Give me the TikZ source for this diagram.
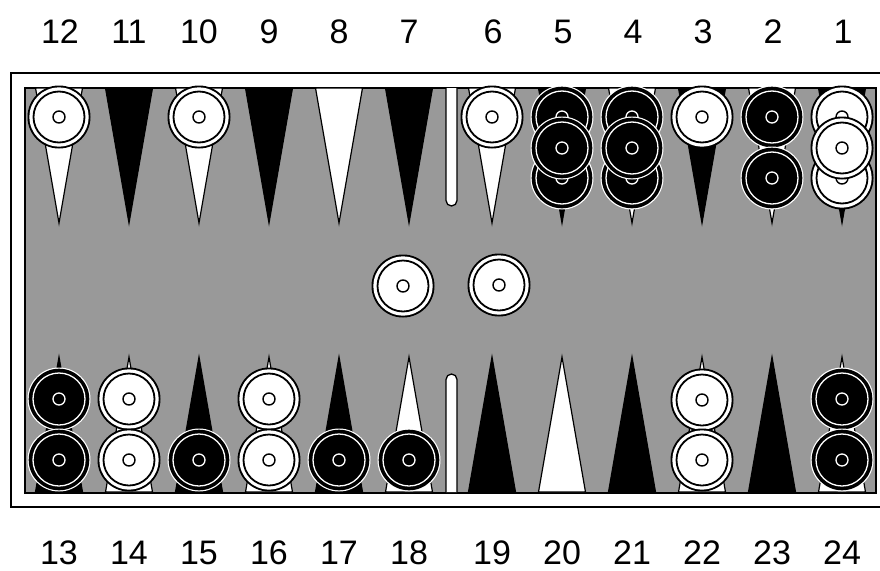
\documentclass[tikz,border=0pt]{standalone}
\usepackage{fontspec}
\setmainfont{Liberation Sans}
\definecolor{boardgrey}{gray}{0.6}
\begin{document}
\begin{tikzpicture}[x=1pt,y=-1pt,
  wpt/.style={fill=white,draw=black,line width=1.2pt,line join=miter},
  bpt/.style={fill=black,draw=black,line width=1.2pt},
  lbl/.style={font=\fontsize{34}{40}\selectfont,anchor=base,inner sep=0pt},
  wchk/.pic={
    \fill[black] (0,0) circle[radius=31.5];
    \fill[white] (0,0) circle[radius=29.6];
    \draw[black,line width=1.8pt] (0,0) circle[radius=25.5];
    \draw[black,line width=1.4pt,fill=white] (0,0) circle[radius=6];
  },
  bchk/.pic={
    \fill[white] (0,0) circle[radius=31.5];
    \fill[black] (0,0) circle[radius=30.3];
    \draw[white,line width=1.3pt] (0,0) circle[radius=26];
    \draw[white,line width=1.3pt,fill=black] (0,0) circle[radius=6];
  }]
\useasboundingbox (0,0) rectangle (880,570);
\clip (0,0) rectangle (880,570);
\fill[white] (0,0) rectangle (880,570);
% frame
\draw[line width=2pt] (11,73) rectangle (892,507);
\draw[fill=boardgrey,line width=1.6pt] (25,88) rectangle (876,493);
% top points
\foreach \x/\s in {59/wpt,129/bpt,199/wpt,269/bpt,339/wpt,409/bpt,492/wpt,562/bpt,632/wpt,702/bpt,772/wpt,842/bpt}
  \draw[\s] (\x-23.5,88) -- (\x,223) -- (\x+23.5,88) -- cycle;
% bottom points
\foreach \x/\s in {59/bpt,129/wpt,199/bpt,269/wpt,339/bpt,409/wpt,492/bpt,562/wpt,632/bpt,702/wpt,772/bpt,842/wpt}
  \draw[\s] (\x-23.5,492) -- (\x,357) -- (\x+23.5,492) -- cycle;
% bar
\draw[fill=white,line width=1.3pt] (446,88) [rounded corners=5.5pt] -- (446,206) -- (457,206) [sharp corners] -- (457,88);
\draw[fill=white,line width=1.3pt] (446,492) [rounded corners=5.5pt] -- (446,374) -- (457,374) [sharp corners] -- (457,492);
% top checkers
\pic at (59,117) {wchk};
\pic at (199,117) {wchk};
\pic at (492,117) {wchk};
\foreach \x in {562,632} {
  \pic at (\x,117) {bchk};
  \pic at (\x,178) {bchk};
  \pic at (\x,148) {bchk};
}
\pic at (702,117) {wchk};
\pic at (772,117) {bchk};
\pic at (772,178) {bchk};
\pic at (842,117) {wchk};
\pic at (842,178) {wchk};
\pic at (842,148) {wchk};
% bottom checkers
\pic at (59,399) {bchk};
\pic at (59,460) {bchk};
\pic at (129,399) {wchk};
\pic at (129,460) {wchk};
\pic at (199,460) {bchk};
\pic at (269,399) {wchk};
\pic at (269,460) {wchk};
\pic at (339,460) {bchk};
\pic at (409,460) {bchk};
\pic at (702,400) {wchk};
\pic at (702,460) {wchk};
\pic at (842,399) {bchk};
\pic at (842,460) {bchk};
% middle (hit) checkers
\pic at (403,286) {wchk};
\pic at (499,285) {wchk};
% labels
\foreach \n/\x in {12/60,11/129,10/199,9/269,8/339,7/409,6/493,5/563,4/633,3/703,2/773,1/843}
  \node[lbl] (t\n) at (\x,43) {\n};
\foreach \n/\x in {13/59,14/129,15/199,16/269,17/339,18/409,19/492,20/562,21/632,22/702,23/772,24/842}
  \node[lbl] (b\n) at (\x,564) {\n};
\end{tikzpicture}
\end{document}
